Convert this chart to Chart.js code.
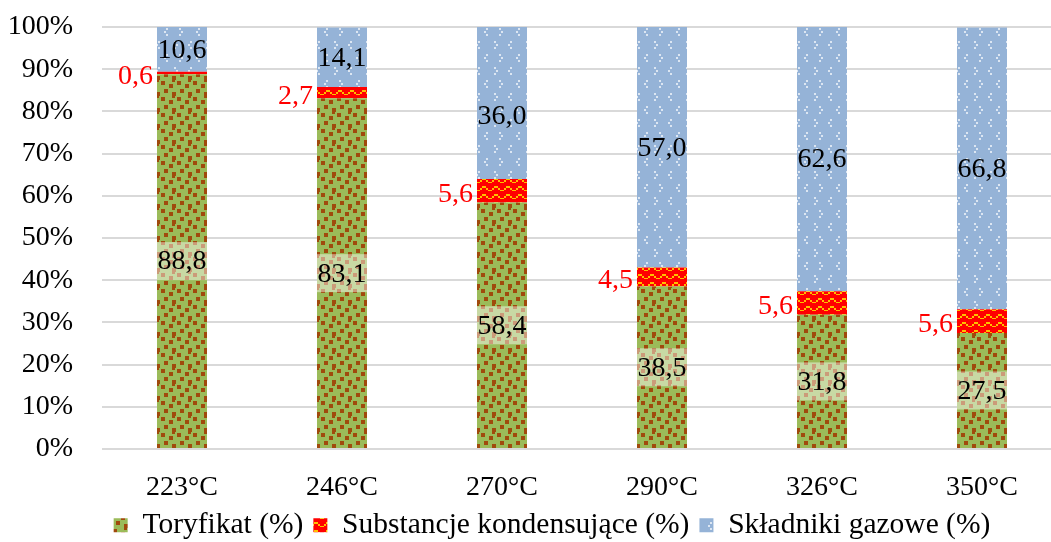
<!DOCTYPE html>
<html>
<head>
<meta charset="utf-8">
<script src="https://cdn.jsdelivr.net/npm/chart.js@4/dist/chart.umd.min.js"></script>
<style>
  html, body { margin: 0; padding: 0; background: #fff; overflow: hidden; }
  #wrap { width: 1051px; height: 542px; overflow: hidden; }
</style>
</head>
<body>
<div id="wrap"><canvas id="chart" width="1062" height="550"></canvas></div>
<script>
// Chart data
const categories = ['223°C', '246°C', '270°C', '290°C', '326°C', '350°C'];
const toryfikat = [88.8, 83.1, 58.4, 38.5, 31.8, 27.5];
const kondensujace = [0.6, 2.7, 5.6, 4.5, 5.6, 5.6];
const gazowe = [10.6, 14.1, 36.0, 57.0, 62.6, 66.8];
const seriesNames = ['Toryfikat (%)', 'Substancje kondensujące (%)', 'Składniki gazowe (%)'];
const yTicks = [0, 10, 20, 30, 40, 50, 60, 70, 80, 90, 100];

const FONT = '"Liberation Serif", "Times New Roman", serif';

/**
 * Build a repeating canvas pattern from a small tile
 */
function makePattern(w, h, bg, fg, rects) {
  const c = document.createElement('canvas');
  c.width = w;
  c.height = h;
  const g = c.getContext('2d');
  g.fillStyle = bg;
  g.fillRect(0, 0, w, h);
  g.fillStyle = fg;
  rects.forEach(r => g.fillRect(r[0], r[1], r[2], r[3]));
  return g.createPattern(c, 'repeat');
}

const ctx = document.getElementById('chart').getContext('2d');

// green with brown squares
const greenPattern = makePattern(16, 16, '#9BBB59', '#A04A0C', [
  [1, 1, 4, 4], [9, 4, 4, 4], [4, 9, 4, 4], [12, 12, 4, 4], [12, 0, 3, 2]
]);

// red with yellow waves
const redPattern = makePattern(12, 8, '#FF0000', '#FFC000', [
  [0, 4, 2, 2], [2, 2, 2, 2], [4, 2, 2, 2], [6, 4, 2, 2],
  [8, 6, 2, 1], [10, 6, 2, 1]
]);

// blue with light dots
const bluePattern = makePattern(32, 26, '#95B3D7', '#DCE6F2', [
  [6, 2, 2, 2], [4, 5, 2, 2], [6, 8, 2, 2],
  [19, 2, 2, 2], [21, 5, 2, 2], [19, 8, 2, 2],
  [14, 15, 2, 2], [16, 18, 2, 2], [14, 21, 2, 2],
  [30, 15, 2, 2], [28, 18, 2, 2], [30, 21, 2, 2]
]);

function fmt(v) {
  return v.toFixed(1).replace('.', ',');
}

// Draw value labels on / next to the bars
const barLabels = {
  id: 'barLabels',
  afterDatasetsDraw(chart) {
    const c = chart.ctx;
    c.save();
    c.font = '28px ' + FONT;
    c.textBaseline = 'middle';
    chart.data.datasets.forEach((ds, di) => {
      const meta = chart.getDatasetMeta(di);
      meta.data.forEach((bar, i) => {
        const txt = fmt(ds.data[i]);
        const cy = (bar.y + bar.base) / 2;
        const tw = c.measureText(txt).width;
        if (di === 0) {
          const bw = Math.max(tw, bar.width);
          c.fillStyle = 'rgba(255,255,255,0.45)';
          c.fillRect(bar.x - bw / 2, cy - 19, bw, 38);
          c.fillStyle = '#000';
          c.textAlign = 'center';
          c.fillText(txt, bar.x, cy + 1);
        } else if (di === 1) {
          c.fillStyle = '#FF0000';
          c.textAlign = 'right';
          c.fillText(txt, bar.x - bar.width / 2 - 4, cy + 4);
        } else {
          // the 270°C label sits a bit lower in the original
          const dy = i === 2 ? 14 : 1;
          c.fillStyle = '#000';
          c.textAlign = 'center';
          c.fillText(txt, bar.x, cy + dy);
        }
      });
    });
    c.restore();
  }
};

// Legend in the original is centred on a slightly wider figure
const legendShift = {
  id: 'legendShift',
  afterLayout(chart) {
    chart.legend.left += 21;
    chart.legend.right += 21;
  }
};

new Chart(ctx, {
  type: 'bar',
  data: {
    labels: categories,
    datasets: [
      { label: seriesNames[0], data: toryfikat, backgroundColor: greenPattern },
      { label: seriesNames[1], data: kondensujace, backgroundColor: redPattern },
      { label: seriesNames[2], data: gazowe, backgroundColor: bluePattern }
    ]
  },
  options: {
    responsive: false,
    animation: false,
    events: [],
    layout: { padding: 0 },
    datasets: {
      bar: { barPercentage: 0.3125, categoryPercentage: 1, borderWidth: 0 }
    },
    scales: {
      x: {
        stacked: true,
        grid: { display: false },
        border: { display: false },
        afterFit(scale) {
          scale.height = 51.5;
        },
        ticks: {
          color: '#000',
          font: { family: FONT, size: 28 },
          padding: 14
        }
      },
      y: {
        stacked: true,
        min: 0,
        max: 100,
        afterBuildTicks(scale) {
          scale.ticks = yTicks.map(v => ({ value: v }));
        },
        afterFit(scale) {
          scale.width = 102;
          scale.paddingTop = 27;
          scale.paddingBottom = 0;
        },
        grid: { color: '#D9D9D9', lineWidth: 2, drawTicks: false },
        border: { display: false },
        ticks: {
          color: '#000',
          font: { family: FONT, size: 28 },
          padding: 29,
          callback: v => v + '%'
        }
      }
    },
    plugins: {
      legend: {
        position: 'bottom',
        labels: {
          color: '#000',
          font: { family: FONT, size: 29.5 },
          boxWidth: 14,
          boxHeight: 14,
          padding: 10
        }
      },
      tooltip: { enabled: false }
    }
  },
  plugins: [barLabels, legendShift]
});
</script>
</body>
</html>
